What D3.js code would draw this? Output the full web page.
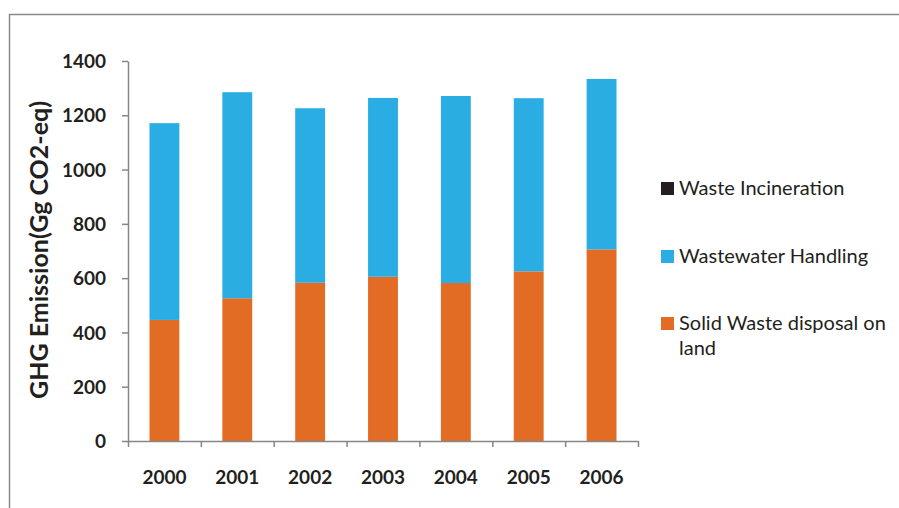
<!DOCTYPE html>
<html>
<head>
<meta charset="utf-8">
<script src="https://cdn.jsdelivr.net/npm/d3@7"></script>
<style>
  body { margin: 0; background: #fff; }
  text { font-family: Lato, "Open Sans", sans-serif; fill: #231f20; }
  .axis path, .axis line { stroke: #868686; stroke-width: 1.5; }
  .axis text { font-weight: bold; font-size: 19px; }
</style>
</head>
<body>
<div id="chart"></div>
<script>
var years = ["2000", "2001", "2002", "2003", "2004", "2005", "2006"];
var solidWaste = [446, 526, 583, 605, 582, 625, 706];
var wastewater = [725, 759, 643, 659, 689, 638, 628];
var incineration = [0, 0, 0, 0, 0, 0, 0];
var seriesNames = ["Solid Waste disposal on land", "Wastewater Handling", "Waste Incineration"];
var colors = ["#e36c25", "#2aade3", "#231f20"];
var yTicks = [0, 200, 400, 600, 800, 1000, 1200, 1400];

var w = 899, h = 508;

var svg = d3.select("#chart")
  .append("svg")
    .attr("width", w)
    .attr("height", h);

// frame (right and bottom edges fall outside the picture)
svg.append("path")
  .attr("d", "M9.5," + (h + 5) + "V14.5H" + (w + 5))
  .attr("fill", "none")
  .attr("stroke", "#888")
  .attr("stroke-width", 1.5);

var rows = years.map(function(y, i) {
  return { year: y, s0: solidWaste[i], s1: wastewater[i], s2: incineration[i] };
});

var stack = d3.stack().keys(["s0", "s1", "s2"]);
var layers = stack(rows);

var x = d3.scaleBand()
  .domain(years)
  .range([128, 638])
  .paddingInner(0.59)
  .paddingOuter(0.295);

var xEdges = d3.scaleLinear()
  .domain([0, years.length])
  .range([128, 638]);

var y = d3.scaleLinear()
  .domain([0, 1400])
  .range([441, 61]);

// bars
svg.selectAll("g.layer")
  .data(layers)
  .enter().append("g")
    .attr("class", "layer")
    .attr("fill", function(d, i) { return colors[i]; })
  .selectAll("rect")
  .data(function(d) { return d; })
  .enter().append("rect")
    .attr("x", function(d) { return x(d.data.year); })
    .attr("y", function(d) { return y(d[1]); })
    .attr("width", x.bandwidth())
    .attr("height", function(d) { return y(d[0]) - y(d[1]); });

// y axis
var yAxis = svg.append("g")
  .attr("class", "axis")
  .attr("transform", "translate(128,0)")
  .call(d3.axisLeft(y).tickValues(yTicks).tickSize(6).tickSizeOuter(0)
    .tickPadding(16).tickFormat(d3.format("d")));
yAxis.selectAll("text").attr("dy", "0.35em");

// x axis: ticks at category edges
svg.append("g")
  .attr("class", "axis")
  .attr("transform", "translate(0,441)")
  .call(d3.axisBottom(xEdges).tickValues(d3.range(years.length + 1)).tickSize(6).tickSizeOuter(0).tickFormat(""));

var xLabels = svg.append("g")
  .attr("class", "axis")
  .attr("transform", "translate(0,441)")
  .call(d3.axisBottom(x).tickSize(0).tickPadding(30));
xLabels.select(".domain").remove();

// y title
svg.append("text")
  .attr("transform", "translate(48,250) rotate(-90)")
  .attr("text-anchor", "middle")
  .attr("textLength", 298)
  .attr("lengthAdjust", "spacingAndGlyphs")
  .style("font-weight", "bold")
  .style("font-size", "24px")
  .text("GHG Emission(Gg CO2-eq)");

// legend
var legend = [
  { color: colors[2], y: 188, lines: [seriesNames[2]] },
  { color: colors[1], y: 256, lines: [seriesNames[1]] },
  { color: colors[0], y: 323, lines: ["Solid Waste disposal on", "land"] }
];

var lg = svg.selectAll("g.legend")
  .data(legend)
  .enter().append("g")
    .attr("class", "legend");

lg.append("rect")
  .attr("x", 661)
  .attr("y", function(d) { return d.y - 6; })
  .attr("width", 13)
  .attr("height", 13)
  .attr("fill", function(d) { return d.color; });

lg.append("text")
  .attr("x", 679)
  .attr("y", function(d) { return d.y; })
  .style("font-size", "20px")
  .selectAll("tspan")
  .data(function(d) { return d.lines; })
  .enter().append("tspan")
    .attr("x", 679)
    .attr("dy", function(d, i) { return i === 0 ? "0.35em" : "25px"; })
    .text(function(d) { return d; });
</script>
</body>
</html>
